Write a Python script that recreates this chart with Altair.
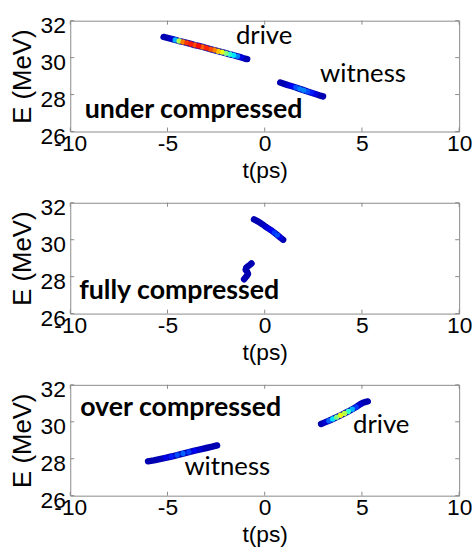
import altair as alt
import pandas as pd

X_TICKS = [-10, -5, 0, 5, 10]
Y_TICKS = [26, 28, 30, 32]

# ---- panel 1: under compressed ----
p1_drive_t = [-5.2, -5.0, -4.8, -4.6, -4.4, -4.2, -4.0, -3.8, -3.6, -3.4, -3.2, -3.0,
              -2.8, -2.6, -2.4, -2.2, -2.0, -1.8, -1.6, -1.4, -1.2, -1.0, -0.9]
p1_drive_E = [31.12, 31.07, 31.02, 30.96, 30.90, 30.85, 30.80, 30.74, 30.68, 30.63, 30.58, 30.52,
              30.46, 30.41, 30.35, 30.30, 30.24, 30.18, 30.13, 30.07, 30.01, 29.94, 29.92]
p1_drive_c = [0.05, 0.05, 0.08, 0.3, 0.55, 0.75, 0.82, 0.85, 0.8, 0.86, 0.78, 0.84,
              0.8, 0.75, 0.68, 0.6, 0.5, 0.42, 0.35, 0.25, 0.1, 0.05, 0.05]

p1_wit_t = [0.8, 1.0, 1.2, 1.4, 1.6, 1.8, 2.0, 2.2, 2.4, 2.6, 2.8, 3.0]
p1_wit_E = [28.65, 28.58, 28.51, 28.45, 28.38, 28.31, 28.24, 28.17, 28.10, 28.03, 27.96, 27.90]
p1_wit_c = [0.05, 0.05, 0.08, 0.12, 0.2, 0.25, 0.25, 0.2, 0.15, 0.1, 0.05, 0.05]

# ---- panel 2: fully compressed ----
p2_drive_t = [-0.55, -0.4, -0.25, -0.1, 0.05, 0.2, 0.35, 0.5, 0.65, 0.8, 0.95]
p2_drive_E = [31.1, 31.02, 30.93, 30.82, 30.7, 30.6, 30.5, 30.38, 30.25, 30.12, 30.0]
p2_drive_c = [0.05, 0.05, 0.05, 0.06, 0.08, 0.1, 0.12, 0.18, 0.2, 0.1, 0.05]

p2_wit_t = [-0.68, -0.74, -0.84, -0.95, -0.98, -0.9, -0.86, -0.92, -1.0, -1.06]
p2_wit_E = [28.72, 28.66, 28.58, 28.48, 28.37, 28.26, 28.15, 28.04, 27.94, 27.86]
p2_wit_c = [0.05, 0.05, 0.05, 0.05, 0.05, 0.05, 0.05, 0.05, 0.05, 0.05]

# ---- panel 3: over compressed ----
p3_drive_t = [2.9, 3.1, 3.3, 3.5, 3.7, 3.9, 4.1, 4.3, 4.5, 4.7, 4.9, 5.05, 5.2, 5.3]
p3_drive_E = [29.88, 29.97, 30.06, 30.15, 30.25, 30.35, 30.45, 30.56, 30.68, 30.8, 30.94, 31.03, 31.08, 31.1]
p3_drive_c = [0.05, 0.08, 0.22, 0.35, 0.5, 0.6, 0.55, 0.42, 0.3, 0.18, 0.08, 0.05, 0.05, 0.05]

p3_wit_t = [-6.0, -5.7, -5.4, -5.1, -4.8, -4.5, -4.2, -3.9, -3.6, -3.3, -3.0, -2.7, -2.45]
p3_wit_E = [27.86, 27.91, 27.98, 28.05, 28.12, 28.2, 28.28, 28.36, 28.44, 28.51, 28.58, 28.65, 28.72]
p3_wit_c = [0.05, 0.05, 0.06, 0.1, 0.15, 0.2, 0.22, 0.18, 0.12, 0.08, 0.05, 0.05, 0.05]

# ---- annotations ----
p1_text = ["drive", "witness", "under compressed"]
p1_text_t = [-1.48, 2.85, -9.26]
p1_text_E = [31.15, 29.13, 27.17]
p1_text_bold = [False, False, True]

p2_text = ["fully compressed"]
p2_text_t = [-9.54]
p2_text_E = [27.24]
p2_text_bold = [True]

p3_text = ["over compressed", "drive", "witness"]
p3_text_t = [-9.49, 4.54, -4.13]
p3_text_E = [30.76, 29.84, 27.57]
p3_text_bold = [True, False, False]

W, H = 393, 112
FRAME = "#8a8a8a"

xs = alt.Scale(domain=[-10, 10], nice=False, zero=False)
ys = alt.Scale(domain=[26, 32], nice=False, zero=False)
jet = alt.Scale(domain=[0, 0.125, 0.375, 0.625, 0.875, 1],
                range=["#000080", "#0000ff", "#00ffff", "#ffff00", "#ff0000", "#800000"],
                interpolate="rgb")

xaxis = alt.Axis(values=X_TICKS, labelPadding=1, titlePadding=4,
                 labelExpr="'' + datum.value")
yaxis = alt.Axis(values=Y_TICKS, labelPadding=5, titlePadding=5, labelOffset=5,
                 titleFontSize=26)
X = alt.X("t:Q", scale=xs, axis=xaxis, title="t(ps)")
Y = alt.Y("E:Q", scale=ys, axis=yaxis, title="E (MeV)")


def bunch_df(name, t, E, c):
    return pd.DataFrame({"bunch": name, "i": list(range(len(t))), "t": t, "E": E, "c": c})


def panel(drive, wit, texts):
    df = pd.concat([bunch_df("drive", *drive), bunch_df("witness", *wit)], ignore_index=True)

    line = alt.Chart(df).mark_line(strokeWidth=6.5, strokeCap="round", strokeJoin="round",
                                   color="#0000b0").encode(
        x=X, y=Y, detail="bunch:N", order="i:Q")
    pts = alt.Chart(df).mark_circle(size=30, opacity=1).encode(
        x=X, y=Y,
        color=alt.Color("c:Q", scale=jet, legend=None),
        order="c:Q")

    tx, tt, te, tb = texts
    tdf = pd.DataFrame({"label": tx, "t": tt, "E": te, "bold": tb})
    txt_norm = alt.Chart(tdf[~tdf["bold"]]).mark_text(
        font="Lato", fontSize=26, align="left", baseline="middle", color="black").encode(
        x=X, y=Y, text="label:N")
    txt_bold = alt.Chart(tdf[tdf["bold"]]).mark_text(
        font="Lato", fontSize=27, fontWeight="bold", align="left", baseline="middle",
        color="black").encode(
        x=X, y=Y, text="label:N")

    xt = pd.DataFrame({"t": X_TICKS})
    yt = pd.DataFrame({"E": Y_TICKS})
    tick_b = alt.Chart(xt).mark_rule(color=FRAME).encode(
        x=X, y=alt.value(H), y2=alt.value(H - 4))
    tick_t = alt.Chart(xt).mark_rule(color=FRAME).encode(
        x=X, y=alt.value(0), y2=alt.value(4))
    tick_l = alt.Chart(yt).mark_rule(color=FRAME).encode(
        y=Y, x=alt.value(0), x2=alt.value(4))
    tick_r = alt.Chart(yt).mark_rule(color=FRAME).encode(
        y=Y, x=alt.value(W), x2=alt.value(W - 4))

    parts = [line, pts, tick_b, tick_t, tick_l, tick_r]
    if len(tdf[~tdf["bold"]]):
        parts.append(txt_norm)
    if len(tdf[tdf["bold"]]):
        parts.append(txt_bold)
    return alt.layer(*parts).properties(width=W, height=H)


p1 = panel((p1_drive_t, p1_drive_E, p1_drive_c), (p1_wit_t, p1_wit_E, p1_wit_c),
           (p1_text, p1_text_t, p1_text_E, p1_text_bold))
p2 = panel((p2_drive_t, p2_drive_E, p2_drive_c), (p2_wit_t, p2_wit_E, p2_wit_c),
           (p2_text, p2_text_t, p2_text_E, p2_text_bold))
p3 = panel((p3_drive_t, p3_drive_E, p3_drive_c), (p3_wit_t, p3_wit_E, p3_wit_c),
           (p3_text, p3_text_t, p3_text_E, p3_text_bold))

chart = alt.vconcat(p1, p2, p3, spacing=72, bounds="flush").properties(
    padding={"left": 8, "top": 11, "right": 0, "bottom": 0}
).configure_view(stroke=FRAME, strokeWidth=1).configure_axis(
    labelFont="Liberation Sans", labelFontSize=23, titleFont="Liberation Sans",
    titleFontSize=23, titleFontWeight="normal", labelColor="#000000", titleColor="#000000",
    domain=False, ticks=False, grid=False, labelFlush=False, labelOverlap=False
)

chart.save("out.html", embed_options={"renderer": "svg", "actions": False})
